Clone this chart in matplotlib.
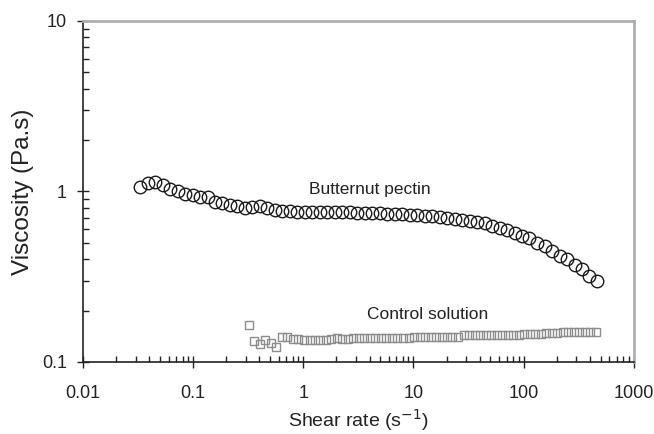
import matplotlib
matplotlib.use("Agg")
import matplotlib.pyplot as plt
import matplotlib.ticker as ticker

plt.rcParams['font.family'] = ['Liberation Sans', 'DejaVu Sans']

# shear rate (1/s) for the pectin run
shear_rate = [0.0330, 0.0386, 0.0451, 0.0528, 0.0617, 0.0722, 0.0844, 0.0987,
              0.115, 0.135, 0.158, 0.184, 0.216, 0.252, 0.295, 0.345, 0.403,
              0.472, 0.552, 0.645, 0.754, 0.882, 1.03, 1.21, 1.41, 1.65, 1.93,
              2.26, 2.64, 3.09, 3.61, 4.22, 4.94, 5.78, 6.76, 7.90, 9.24,
              10.8, 12.6, 14.8, 17.3, 20.2, 23.6, 27.6, 32.3, 37.8, 44.2,
              51.7, 60.5, 70.7, 82.7, 96.7, 113, 132, 155, 181, 212, 248,
              290, 339, 396, 463]

# viscosity (Pa.s), butternut pectin
pectin = [1.06, 1.12, 1.14, 1.09, 1.03, 1.00, 0.97, 0.95,
          0.93, 0.93, 0.87, 0.85, 0.83, 0.82, 0.80, 0.81, 0.82,
          0.80, 0.78, 0.77, 0.77, 0.76, 0.76, 0.76, 0.76, 0.76, 0.76,
          0.76, 0.76, 0.75, 0.75, 0.75, 0.75, 0.74, 0.74, 0.74, 0.73,
          0.73, 0.72, 0.72, 0.71, 0.70, 0.69, 0.68, 0.67, 0.66, 0.65,
          0.63, 0.61, 0.59, 0.57, 0.55, 0.53, 0.50, 0.48, 0.45, 0.42, 0.40,
          0.37, 0.35, 0.32, 0.30]

# control solution
control_rate = [0.320, 0.359, 0.403, 0.452, 0.507, 0.569, 0.638, 0.716,
                0.804, 0.902, 1.01, 1.14, 1.27, 1.43, 1.60, 1.80, 2.02, 2.26,
                2.54, 2.85, 3.20, 3.59, 4.03, 4.52, 5.07, 5.69, 6.38, 7.16,
                8.04, 9.02, 10.1, 11.4, 12.7, 14.3, 16.0, 18.0, 20.2, 22.6,
                25.4, 28.5, 32.0, 35.9, 40.3, 45.2, 50.7, 56.9, 63.8, 71.6,
                80.4, 90.2, 101, 114, 127, 143, 160, 180, 202, 226, 254, 285,
                320, 359, 403, 452]
control = [0.165, 0.132, 0.128, 0.135, 0.130, 0.122, 0.141, 0.140,
           0.137, 0.136, 0.135, 0.135, 0.134, 0.135, 0.135, 0.137, 0.138, 0.137,
           0.137, 0.138, 0.138, 0.139, 0.139, 0.139, 0.139, 0.139, 0.139, 0.139,
           0.139, 0.139, 0.140, 0.140, 0.140, 0.140, 0.140, 0.140, 0.140, 0.140,
           0.141, 0.143, 0.143, 0.143, 0.143, 0.143, 0.143, 0.143, 0.143, 0.144,
           0.144, 0.144, 0.145, 0.145, 0.145, 0.146, 0.147, 0.148, 0.148, 0.149,
           0.149, 0.150, 0.150, 0.150, 0.150, 0.150]

x_ticks = [0.01, 0.1, 1, 10, 100, 1000]
y_ticks = [0.1, 1, 10]

fig = plt.figure(figsize=(6.54, 4.34), dpi=100)
ax = fig.add_axes([0.127, 0.166, 0.842, 0.786])

ax.plot(shear_rate, pectin, linestyle='none', marker='o', markersize=9,
        markerfacecolor='none', markeredgecolor='#1a1a1a', markeredgewidth=1.0)
ax.plot(control_rate, control, linestyle='none', marker='s', markersize=6,
        markerfacecolor='none', markeredgecolor='#8c8c8c', markeredgewidth=1.0)

ax.set_xscale('log')
ax.set_yscale('log')
ax.set_xlim(0.01, 1000)
ax.set_ylim(0.1, 10)

ax.xaxis.set_major_locator(ticker.FixedLocator(x_ticks))
ax.yaxis.set_major_locator(ticker.FixedLocator(y_ticks))
ax.xaxis.set_major_formatter(ticker.FuncFormatter(lambda v, p: '%g' % v))
ax.yaxis.set_major_formatter(ticker.FuncFormatter(lambda v, p: '%g' % v))
ax.xaxis.set_minor_locator(ticker.LogLocator(base=10, subs=range(2, 10)))
ax.yaxis.set_minor_locator(ticker.LogLocator(base=10, subs=range(2, 10)))
ax.xaxis.set_minor_formatter(ticker.NullFormatter())
ax.yaxis.set_minor_formatter(ticker.NullFormatter())

ax.tick_params(which='major', direction='inout', length=9, width=1.0,
               color='#222222', labelsize=13, labelcolor='#222222')
ax.tick_params(which='minor', direction='in', length=4, width=1.0,
               color='#222222')
ax.tick_params(axis='x', which='major', pad=12)
ax.tick_params(axis='y', which='major', pad=7)

for side in ['left', 'bottom']:
    ax.spines[side].set_color('#222222')
    ax.spines[side].set_linewidth(1.2)
for side in ['top', 'right']:
    ax.spines[side].set_color('#b0b0b0')
    ax.spines[side].set_linewidth(2.0)

ax.set_xlabel('Shear rate (s$^{-1}$)', fontsize=14, color='#222222', labelpad=4)
ax.set_ylabel('Viscosity (Pa.s)', fontsize=17.5, color='#222222', labelpad=6)

ax.text(3.98, 1.03, 'Butternut pectin', fontsize=12.5, color='#222222',
        ha='center', va='center')
ax.text(13.4, 0.189, 'Control solution', fontsize=12.5, color='#222222',
        ha='center', va='center')

plt.savefig('out.png', dpi=100)
